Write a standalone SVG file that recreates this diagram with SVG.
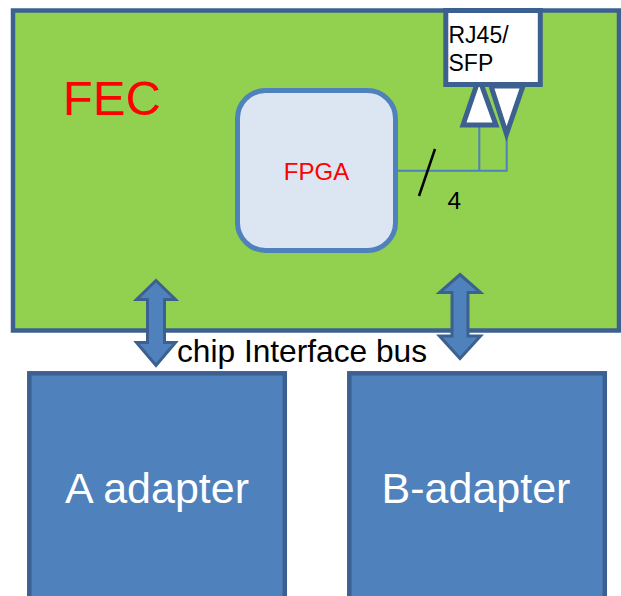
<svg xmlns="http://www.w3.org/2000/svg" width="621" height="596" viewBox="0 0 621 596">
<style>
  .lbl { font-family: "Liberation Sans", Arial, sans-serif; }
  .bus { fill: #4f81bd; stroke: #3c6190; stroke-width: 3; stroke-linejoin: miter; }
  .wire { fill: none; stroke: #4f81bd; stroke-width: 2; }
  .adapter { fill: #4f81bd; stroke: #3c6190; stroke-width: 4.5; }
  .adapterText { font-family: "Liberation Sans", Arial, sans-serif; font-size: 43px; fill: #ffffff; text-anchor: middle; }
</style>
<rect width="621" height="596" fill="#ffffff"/>

<g id="fec">
  <rect x="13" y="10.5" width="606" height="320" fill="#92d050" stroke="#3c6190" stroke-width="4.5"/>
  <text class="lbl" x="62.8" y="115" font-size="49" fill="#ff0000">FEC</text>
</g>

<g id="connectors">
  <path class="wire" d="M398,170.7 H506.7 V137"/>
  <path class="wire" d="M479.3,125 V170.7"/>
  <line x1="435" y1="149" x2="419" y2="196" stroke="#000000" stroke-width="2.5"/>
  <text class="lbl" x="447.5" y="209" font-size="24.5" fill="#000000">4</text>
  <path id="bus-a" class="bus" d="M156,280.5 L175.5,299.5 L164.5,299.5 L164.5,342.5 L175.5,342.5 L156,365.5 L136.5,342.5 L147.5,342.5 L147.5,299.5 L136.5,299.5 Z"/>
  <path id="bus-b" class="bus" d="M460,274.5 L480.5,292.5 L468,292.5 L468,336 L480.5,336 L460,358.5 L439.5,336 L452,336 L452,292.5 L439.5,292.5 Z"/>
  <text class="lbl" x="177" y="362" font-size="31.5" fill="#000000" textLength="250" lengthAdjust="spacingAndGlyphs">chip Interface bus</text>
</g>

<g id="fpga">
  <rect x="237.5" y="90.5" width="158" height="160" rx="28" ry="28" fill="#dce6f2" stroke="#4f81bd" stroke-width="5"/>
  <text class="lbl" x="316.5" y="180" font-size="24" fill="#ff0000" text-anchor="middle">FPGA</text>
</g>

<g id="rj45">
  <polygon points="491,86 523,86 506.5,134" fill="#ffffff" stroke="#3c6190" stroke-width="5" stroke-linejoin="miter"/>
  <polygon points="479,78 463,125 496,125" fill="#ffffff" stroke="#3c6190" stroke-width="5" stroke-linejoin="miter"/>
  <rect x="445.8" y="10.5" width="94.5" height="74" fill="#ffffff" stroke="#3c6190" stroke-width="5"/>
  <text class="lbl" font-size="23" fill="#000000"><tspan x="448.5" y="43">RJ45/</tspan><tspan x="448.5" y="71">SFP</tspan></text>
</g>

<g id="a-adapter">
  <rect class="adapter" x="29.3" y="373.3" width="255.5" height="240"/>
  <text class="adapterText" x="157" y="503">A adapter</text>
</g>

<g id="b-adapter">
  <rect class="adapter" x="349.3" y="373.3" width="255.5" height="240"/>
  <text class="adapterText" x="476" y="503">B-adapter</text>
</g>
</svg>
